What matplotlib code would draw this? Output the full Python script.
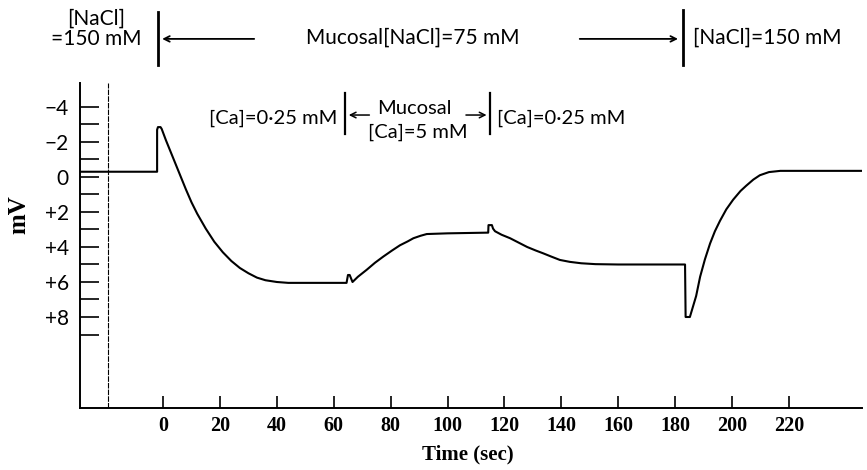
import matplotlib
matplotlib.use("Agg")
import matplotlib.pyplot as plt

# trace (time in s, potential in mV, positive = down)
t = [-29.2, -2.1, -2.1, -1.8, -0.9, -0.5, 1, 2.5, 4, 6, 8, 10, 12, 15, 18, 21, 24,
     27, 30, 33, 36, 40, 44, 50, 64.5, 65.0, 65.6, 66.6, 68.5, 71.6, 74.5, 77.4,
     80.5, 83.3, 86, 88.0, 90.5, 92.7, 100, 114.3, 114.4, 115.6, 116.0, 116.7,
     119, 122, 125, 128, 131, 133.6, 136.5, 139.5, 143, 147, 152, 160, 183.5,
     183.7, 185.2, 187.4, 188.8, 190.5, 192.3, 194, 195.8, 198, 200.4, 203, 205,
     207.5, 209.8, 213, 217, 246.7]
mv = [-0.3, -0.3, -2.7, -2.85, -2.85, -2.75, -2.1, -1.5, -0.9, -0.1, 0.7, 1.45, 2.1,
      2.95, 3.7, 4.3, 4.8, 5.2, 5.5, 5.75, 5.9, 6.0, 6.05, 6.05, 6.05, 5.6, 5.6,
      6.0, 5.7, 5.3, 4.9, 4.55, 4.2, 3.9, 3.68, 3.5, 3.36, 3.26, 3.22, 3.18, 2.75,
      2.75, 2.95, 3.1, 3.3, 3.5, 3.75, 4.0, 4.2, 4.36, 4.55, 4.74, 4.85, 4.93,
      4.98, 5.0, 5.0, 8.0, 8.0, 6.8, 5.7, 4.7, 3.8, 3.1, 2.5, 1.85, 1.3, 0.8, 0.5,
      0.15, -0.1, -0.28, -0.35, -0.35]

xticks = [0, 20, 40, 60, 80, 100, 120, 140, 160, 180, 200, 220]
ymajor = [-4, -2, 0, 2, 4, 6, 8]
ylabels = ["\u22124", "\u22122", "0", "+2", "+4", "+6", "+8"]
yminor = [-3, -1, 1, 3, 5, 7, 9]

sans = "Lato"
serif = "Liberation Serif"

fig = plt.figure(figsize=(8.67, 4.7), dpi=100)
ax = fig.add_axes([0.0923, 0.1319, 0.9019, 0.6915])

ax.plot(t, mv, color="black", lw=1.5, solid_joinstyle="round")
ax.axvline(-19.3, color="black", lw=0.8, linestyle=(0, (5, 1)))

ax.set_xlim(-29.2, 245.7)
ax.set_ylim(13.2, -5.37)

for s in ["top", "right"]:
    ax.spines[s].set_visible(False)
for s in ["left", "bottom"]:
    ax.spines[s].set_linewidth(1.4)

ax.set_xticks(xticks)
ax.set_xticklabels([str(v) for v in xticks], fontfamily=serif, fontsize=14.5,
                   fontweight="bold")
ax.tick_params(axis="x", direction="in", length=9, width=1.2, pad=6)

ax.set_yticks(ymajor)
ax.set_yticklabels(ylabels, fontfamily=sans, fontsize=15)
ax.set_yticks(yminor, minor=True)
ax.tick_params(axis="y", which="both", direction="in", length=14, width=1.2,
               pad=8)

fig.text(0.022, 0.543, "mV", rotation=90, ha="center", va="center",
         fontfamily=serif, fontsize=18, fontweight="bold")
fig.text(0.539, 0.032, "Time (sec)", ha="center", va="center",
         fontfamily=serif, fontsize=15, fontweight="bold")

# top solution markers
kw = dict(color="black", clip_on=False)
ax.plot([-1.76, -1.76], [-9.43, -6.4], lw=2, **kw)
ax.plot([182.8, 182.8], [-9.54, -6.4], lw=2, **kw)
ax.annotate("", xy=(-1.3, -7.89), xytext=(33, -7.89), annotation_clip=False,
            arrowprops=dict(arrowstyle="->", lw=1.3, color="black"))
ax.annotate("", xy=(182.0, -7.89), xytext=(145.5, -7.89), annotation_clip=False,
            arrowprops=dict(arrowstyle="->", lw=1.3, color="black"))
ax.text(-23.5, -8.45, "[NaCl]\n=150 mM", ha="center", va="center",
        fontfamily=sans, fontsize=15, linespacing=1.0, clip_on=False)
ax.text(87.9, -7.94, "Mucosal[NaCl]=75 mM", ha="center", va="center",
        fontfamily=sans, fontsize=15, clip_on=False)
ax.text(186.3, -7.94, "[NaCl]=150 mM", ha="left", va="center",
        fontfamily=sans, fontsize=15, clip_on=False)

# calcium markers
ax.plot([64, 64], [-4.8, -2.45], lw=1.6, **kw)
ax.plot([115, 115], [-4.8, -2.45], lw=1.6, **kw)
ax.annotate("", xy=(64.3, -3.54), xytext=(73.5, -3.54), annotation_clip=False,
            arrowprops=dict(arrowstyle="->", lw=1.1, color="black"))
ax.annotate("", xy=(114.7, -3.54), xytext=(105.5, -3.54), annotation_clip=False,
            arrowprops=dict(arrowstyle="->", lw=1.1, color="black"))
ax.text(61.2, -3.35, "[Ca]=0\u00b725 mM", ha="right", va="center",
        fontfamily=sans, fontsize=14.5, clip_on=False)
ax.text(88.5, -3.9, "Mucosal", ha="center", va="center",
        fontfamily=sans, fontsize=14.5, clip_on=False)
ax.text(89.6, -2.55, "[Ca]=5 mM", ha="center", va="center",
        fontfamily=sans, fontsize=14.5, clip_on=False)
ax.text(117.4, -3.37, "[Ca]=0\u00b725 mM", ha="left", va="center",
        fontfamily=sans, fontsize=14.5, clip_on=False)

fig.savefig("out.png", dpi=100)
